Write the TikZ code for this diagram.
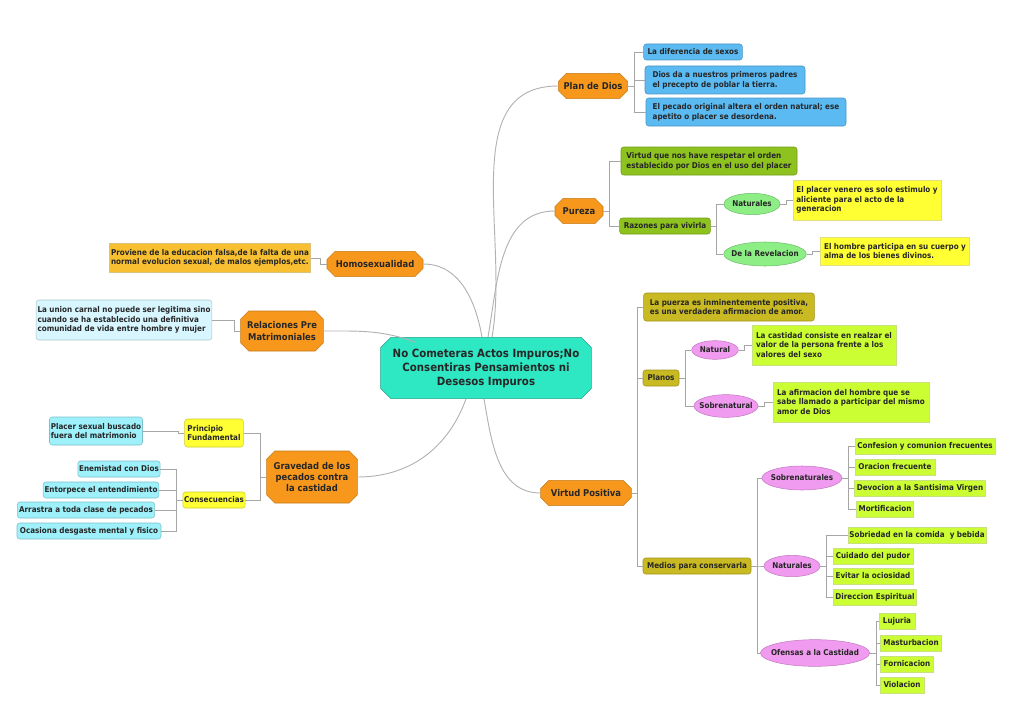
\documentclass[tikz,border=0pt]{standalone}
\usepackage{fontspec}
\setmainfont{DejaVu Sans Condensed}
\usetikzlibrary{shapes.misc,shapes.geometric}
\definecolor{cOr}{HTML}{F7981D}
\definecolor{cBl}{HTML}{5BBAF2}
\definecolor{cGr}{HTML}{8DC21F}
\definecolor{cYe}{HTML}{FFFF33}
\definecolor{cLi}{HTML}{CCFF33}
\definecolor{cOl}{HTML}{C9B922}
\definecolor{cPi}{HTML}{F19BF0}
\definecolor{cLg}{HTML}{8CEE84}
\definecolor{cLb}{HTML}{D8F6FF}
\definecolor{cCy}{HTML}{9EF0FA}
\definecolor{cTe}{HTML}{2EE8C4}
\definecolor{cHo}{HTML}{F8C030}
\begin{document}
\begin{tikzpicture}[x=0.75pt,y=-0.75pt,
 font=\fontsize{6}{7.2}\selectfont\bfseries,
 base/.style={inner sep=1pt,align=left,text=black!85},
 main/.style={base,chamfered rectangle,chamfered rectangle xsep=2.5pt,fill=cOr,draw=cOr!80!black,align=center,font=\fontsize{7}{8.6}\selectfont\bfseries},
 rb/.style={base,rounded corners=2pt,draw=#1!80!black,fill=#1},
 sq/.style={base,draw=#1!80!black!60,fill=#1},
 el/.style={base,ellipse,fill=#1,draw=#1!80!black,inner xsep=-4pt,inner ysep=0pt,align=center},
 conn/.style={draw=black!35,line width=0.5pt},
 cur/.style={draw=black!30,line width=0.7pt}]
\useasboundingbox (0,0) rectangle (1024,724);
\newcommand\elb[2]{\draw[conn] (#1.east) -- ++(6,0) |- (#2.west);}
\newcommand\elbl[2]{\draw[conn] (#1.west) -- ++(-6,0) |- (#2.east);}
% central
\node[base,chamfered rectangle,chamfered rectangle xsep=4pt,fill=cTe,draw=cTe!70!black,minimum width=158pt,minimum height=46pt,align=center,font=\fontsize{8.5}{10.5}\selectfont\bfseries] (c) at (486,368) {No Cometeras Actos Impuros;No\\Consentiras Pensamientos ni\\Desesos Impuros};
% Plan de Dios
\node[main,minimum width=52pt,minimum height=19pt] (plan) at (593,86) {Plan de Dios};
\node[rb=cBl,minimum width=74pt,minimum height=12pt] (p1) at (693,52) {La diferencia de sexos};
\node[rb=cBl,minimum width=120pt,minimum height=21pt] (p2) at (725,80) {Dios da a nuestros primeros padres\\el precepto de poblar la tierra.};
\node[rb=cBl,minimum width=150pt,minimum height=21pt] (p3) at (746,112) {El pecado original altera el orden natural; ese\\apetito o placer se desordena.};
\elb{plan}{p1}\elb{plan}{p2}\elb{plan}{p3}
% Pureza
\node[main,minimum width=36pt,minimum height=19pt] (pur) at (579,211) {Pureza};
\node[rb=cGr,minimum width=132pt,minimum height=21pt] (pu1) at (709,161) {Virtud que nos have respetar el orden\\establecido por Dios en el uso del placer};
\node[rb=cGr,minimum width=68pt,minimum height=12pt] (pu2) at (665,226) {Razones para vivirla};
\node[el=cLg,minimum width=42pt,minimum height=16pt] (nat1) at (752,204) {Naturales};
\node[el=cLg,minimum width=62pt,minimum height=18pt] (rev) at (765,254) {De la Revelacion};
\node[sq=cYe,minimum width=111pt,minimum height=30pt] (y1) at (867,200) {El placer venero es solo estimulo y\\aliciente para el acto de la\\generacion};
\node[sq=cYe,minimum width=112pt,minimum height=21pt] (y2) at (895,251) {El hombre participa en su cuerpo y\\alma de los bienes divinos.};
\elb{pur}{pu1}\elb{pur}{pu2}\elb{pu2}{nat1}\elb{pu2}{rev}\elb{nat1}{y1}\elb{rev}{y2}
% Homosexualidad
\node[main,minimum width=72pt,minimum height=19pt] (hom) at (375,264) {Homosexualidad};
\node[sq=cHo,minimum width=135pt,minimum height=22pt] (h1) at (210,258) {Proviene de la educacion falsa,de la falta de una\\normal evolucion sexual, de malos ejemplos,etc.};
\elbl{hom}{h1}
% Relaciones
\node[main,minimum width=62pt,minimum height=30pt] (rel) at (282,331) {Relaciones Pre\\Matrimoniales};
\node[rb=cLb,minimum width=124pt,minimum height=30pt] (r1) at (124,320) {La union carnal no puede ser legitima sino\\cuando se ha establecido una definitiva\\comunidad de vida entre hombre y mujer};
\elbl{rel}{r1}
% Gravedad
\node[main,minimum width=68pt,minimum height=39pt] (grav) at (312,477) {Gravedad de los\\pecados contra\\la castidad};
\node[rb=cYe,minimum width=44pt,minimum height=21pt] (pf) at (214,433) {Principio\\Fundamental};
\node[rb=cYe,minimum width=45pt,minimum height=12pt] (cons) at (214,500) {Consecuencias};
\node[rb=cCy,minimum width=67pt,minimum height=21pt] (g1) at (96,431) {Placer sexual buscado\\fuera del matrimonio};
\node[rb=cCy,minimum width=49pt,minimum height=12pt] (g2) at (119,469) {Enemistad con Dios};
\node[rb=cCy,minimum width=78pt,minimum height=12pt] (g3) at (101,490) {Entorpece el entendimiento};
\node[rb=cCy,minimum width=103pt,minimum height=12pt] (g4) at (86,510) {Arrastra a toda clase de pecados};
\node[rb=cCy,minimum width=108pt,minimum height=12pt] (g5) at (89,531) {Ocasiona desgaste mental y fisico};
\elbl{grav}{pf}\elbl{grav}{cons}\elbl{pf}{g1}
\elbl{cons}{g2}\elbl{cons}{g3}\elbl{cons}{g4}\elbl{cons}{g5}
% Virtud positiva
\node[main,minimum width=68pt,minimum height=19pt] (vp) at (586,493) {Virtud Positiva};
\node[rb=cOl,minimum width=128pt,minimum height=21pt] (v1) at (729,307) {La puerza es inminentemente positiva,\\es una verdadera afirmacion de amor.};
\node[rb=cOl,minimum width=27pt,minimum height=12pt] (plan2) at (661,378) {Planos};
\node[el=cPi,minimum width=35pt,minimum height=14pt] (natu) at (715,350) {Natural};
\node[el=cPi,minimum width=48pt,minimum height=17pt] (sobr) at (726,406) {Sobrenatural};
\node[sq=cLi,minimum width=108pt,minimum height=30pt] (l1) at (824,345) {La castidad consiste en realzar el\\valor de la persona frente a los\\valores del sexo};
\node[sq=cLi,minimum width=117pt,minimum height=30pt] (l2) at (851,402) {La afirmacion del hombre que se\\sabe llamado a participar del mismo\\amor de Dios};
\node[rb=cOl,minimum width=81pt,minimum height=12pt] (med) at (697,566) {Medios para conservarla};
\elb{vp}{v1}\elb{vp}{plan2}\elb{vp}{med}
\elb{plan2}{natu}\elb{plan2}{sobr}\elb{natu}{l1}\elb{sobr}{l2}
\node[el=cPi,minimum width=60pt,minimum height=18pt] (sn) at (802,478) {Sobrenaturales};
\node[el=cPi,minimum width=42pt,minimum height=16pt] (nn) at (792,566) {Naturales};
\node[el=cPi,minimum width=78pt,minimum height=20pt] (of) at (815,653) {Ofensas a la Castidad};
\elb{med}{sn}\elb{med}{nn}\elb{med}{of}
\node[sq=cLi,minimum width=105pt,minimum height=12pt] (s1) at (925,446) {Confesion y comunion frecuentes};
\node[sq=cLi,minimum width=60pt,minimum height=12pt] (s2) at (895,467) {Oracion frecuente};
\node[sq=cLi,minimum width=98pt,minimum height=12pt] (s3) at (920,488) {Devocion a la Santisima Virgen};
\node[sq=cLi,minimum width=43pt,minimum height=12pt] (s4) at (885,509) {Mortificacion};
\node[sq=cLi,minimum width=102pt,minimum height=12pt] (n1) at (917,535) {Sobriedad en la comida\ \ y bebida};
\node[sq=cLi,minimum width=60pt,minimum height=12pt] (n2) at (873,556) {Cuidado del pudor};
\node[sq=cLi,minimum width=60pt,minimum height=12pt] (n3) at (873,576) {Evitar la ociosidad};
\node[sq=cLi,minimum width=62pt,minimum height=12pt] (n4) at (875,597) {Direccion Espiritual};
\node[sq=cLi,minimum width=27pt,minimum height=12pt] (o1) at (897,621) {Lujuria};
\node[sq=cLi,minimum width=46pt,minimum height=12pt] (o2) at (911,643) {Masturbacion};
\node[sq=cLi,minimum width=40pt,minimum height=12pt] (o3) at (907,664) {Fornicacion};
\node[sq=cLi,minimum width=33pt,minimum height=12pt] (o4) at (902,685) {Violacion};
\elb{sn}{s1}\elb{sn}{s2}\elb{sn}{s3}\elb{sn}{s4}
\elb{nn}{n1}\elb{nn}{n2}\elb{nn}{n3}\elb{nn}{n4}
\elb{of}{o1}\elb{of}{o2}\elb{of}{o3}\elb{of}{o4}
% curves from central
\draw[cur] (c.north) ++(6,0) to[out=80,in=180] (plan.west);
\draw[cur] (c.north) ++(2,0) to[out=80,in=180] (pur.west);
\draw[cur] (c.north) ++(-4,0) to[out=100,in=0] (hom.east);
\draw[cur] (c.north west) ++(30,0) to[out=160,in=0] (rel.east);
\draw[cur] (c.south) ++(-20,0) to[out=-110,in=0] (grav.east);
\draw[cur] (c.south) ++(-2,0) to[out=-80,in=180] (vp.west);
\end{tikzpicture}
\end{document}
